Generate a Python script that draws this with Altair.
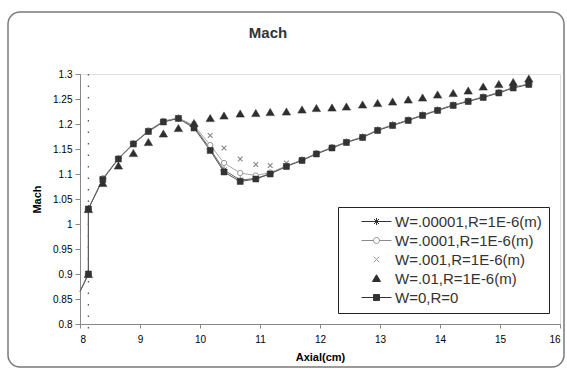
import altair as alt
import pandas as pd

# ---- data ----
AXIAL = [8.00, 8.14, 8.14, 8.38, 8.64, 8.89, 9.14, 9.39, 9.64, 9.90, 10.17, 10.40,
         10.67, 10.93, 11.17, 11.44, 11.70, 11.94, 12.20, 12.44, 12.71, 12.96, 13.21,
         13.47, 13.71, 13.96, 14.22, 14.47, 14.72, 14.98, 15.22, 15.48]

W_00001 = [0.865, 0.900, 1.030, 1.091, 1.131, 1.161, 1.186, 1.205, 1.212, 1.195, 1.150,
           1.108, 1.088, 1.091, 1.101, 1.116, 1.128, 1.141, 1.153, 1.164, 1.174, 1.188,
           1.198, 1.208, 1.218, 1.228, 1.238, 1.246, 1.254, 1.263, 1.273, 1.280]
W_0001 = [0.865, 0.900, 1.030, 1.091, 1.131, 1.161, 1.187, 1.206, 1.212, 1.197, 1.158,
          1.122, 1.102, 1.097, 1.103, 1.116, 1.128, 1.141, 1.153, 1.164, 1.174, 1.188,
          1.198, 1.208, 1.218, 1.228, 1.238, 1.246, 1.254, 1.263, 1.273, 1.280]
W_001 = [None, 0.900, 1.030, 1.090, 1.131, 1.161, 1.187, 1.206, 1.213, 1.200, 1.177,
         1.152, 1.130, 1.119, 1.117, 1.122, 1.129, 1.141, 1.153, 1.164, 1.174, 1.188,
         1.198, 1.208, 1.218, 1.228, 1.238, 1.246, 1.254, 1.263, 1.273, 1.280]
W_01 = [None, 0.900, 1.030, 1.082, 1.117, 1.142, 1.164, 1.181, 1.192, 1.202, 1.212,
        1.217, 1.221, 1.222, 1.224, 1.225, 1.229, 1.232, 1.233, 1.235, 1.239, 1.242,
        1.245, 1.249, 1.253, 1.259, 1.262, 1.267, 1.275, 1.280, 1.284, 1.291]
W_0 = [0.865, 0.900, 1.030, 1.089, 1.130, 1.160, 1.185, 1.204, 1.211, 1.192, 1.147,
       1.104, 1.085, 1.090, 1.100, 1.115, 1.127, 1.140, 1.152, 1.163, 1.173, 1.187,
       1.197, 1.207, 1.217, 1.227, 1.237, 1.245, 1.253, 1.262, 1.272, 1.279]

SERIES = ["W=.00001,R=1E-6(m)", "W=.0001,R=1E-6(m)", "W=.001,R=1E-6(m)",
          "W=.01,R=1E-6(m)", "W=0,R=0"]
VALUES = [W_00001, W_0001, W_001, W_01, W_0]
SHOCK_X = [8.14]
Y_TICKS = [0.8, 0.85, 0.9, 0.95, 1.0, 1.05, 1.1, 1.15, 1.2, 1.25, 1.3]
X_TICKS = [8, 9, 10, 11, 12, 13, 14, 15, 16]

rows = []
for name, vals in zip(SERIES, VALUES):
    for i, (xv, yv) in enumerate(zip(AXIAL, vals)):
        if yv is not None:
            rows.append({"series": name, "idx": i, "axial": xv, "mach": yv})
df = pd.DataFrame(rows)

FONT = "Liberation Sans"

# ---- styles ----
ASTER = "M-1,0H1M0,-1V1M-0.7,-0.7L0.7,0.7M-0.7,0.7L0.7,-0.7"
XMARK = "M-1,-1L1,1M-1,1L1,-1"
STYLE = {
    SERIES[0]: dict(line="#666666", point=dict(shape=ASTER, size=50, filled=False, stroke="#555555", strokeWidth=1)),
    SERIES[1]: dict(line="#a8a8a8", point=dict(shape="circle", size=28, filled=True, fill="white", stroke="#9a9a9a", strokeWidth=1)),
    SERIES[2]: dict(line=None, point=dict(shape=XMARK, size=22, filled=False, stroke="#8a8a8a", strokeWidth=1.2)),
    SERIES[3]: dict(line=None, point=dict(shape="triangle-up", size=70, filled=True, fill="#2e2e2e", stroke="#2e2e2e", strokeWidth=0.5)),
    SERIES[4]: dict(line="#555555", point=dict(shape="square", size=36, filled=True, fill="#333333", stroke="#333333", strokeWidth=0.5)),
}

xscale = alt.Scale(domain=[8, 16], nice=False, zero=False)
yscale = alt.Scale(domain=[0.8, 1.3], nice=False, zero=False)
xaxis = alt.Axis(values=X_TICKS, title="Axial(cm)", tickSize=4, labelPadding=6,
                 titlePadding=7, grid=False)
yaxis = alt.Axis(values=Y_TICKS, format="~g", title="Mach", tickSize=5, labelPadding=3,
                 titlePadding=10, grid=False)

X = alt.X("axial:Q", scale=xscale, axis=xaxis)
Y = alt.Y("mach:Q", scale=yscale, axis=yaxis)

base = alt.Chart(df)
layers = []

# outer rounded frame of the chart area
frame = alt.Chart(pd.DataFrame({"k": [0]})).mark_rect(
    cornerRadius=12, fillOpacity=0, stroke="#7a7a7a", strokeWidth=1.5
).encode(x=alt.value(-72), x2=alt.value(484), y=alt.value(-62), y2=alt.value(293))
layers.append(frame)

# dotted vertical line
shock = alt.Chart(pd.DataFrame({"axial": SHOCK_X})).mark_rule(
    color="#555555", strokeDash=[1.5, 10], strokeWidth=1.3
).encode(x=X, y=alt.value(0), y2=alt.value(262))
layers.append(shock)

for name in SERIES:
    st = STYLE[name]
    sub = base.transform_filter(alt.datum.series == name)
    if st["line"]:
        layers.append(sub.mark_line(color=st["line"], strokeWidth=1).encode(
            x=X, y=Y, order=alt.Order("idx:Q")))
for name in SERIES:
    st = STYLE[name]
    sub = base.transform_filter((alt.datum.series == name) & (alt.datum.idx >= 1))
    layers.append(sub.mark_point(opacity=1, **st["point"]).encode(x=X, y=Y))

# legend-only layer (no visible marks)
LEG_SHAPES = [
    "M-3,0H3" + "M-0.7,0H0.7M0,-0.7V0.7M-0.5,-0.5L0.5,0.5M-0.5,0.5L0.5,-0.5",
    "M-3,0H-0.6M0.6,0H3M0.6,0A0.6,0.6,0,1,1,-0.6,0A0.6,0.6,0,1,1,0.6,0Z",
    "M-0.55,-0.55L0.55,0.55M-0.55,0.55L0.55,-0.55",
    "M0,-0.75L0.8,0.6L-0.8,0.6Z",
    "M-3,0H3M-0.6,-0.6H0.6V0.6H-0.6Z",
]
LEG_FILL = ["transparent", "white", "transparent", "#2e2e2e", "#333333"]
LEG_STROKE = ["#333333", "#8a8a8a", "#9a9a9a", "#2e2e2e", "#333333"]

legend = alt.Legend(title=None, orient="none", legendX=258, legendY=133, padding=7,
                    symbolSize=100, symbolOffset=24, labelOffset=11, rowPadding=3,
                    labelFontSize=15, labelColor="#333333", labelFont=FONT,
                    strokeColor="#222222", fillColor="white", symbolStrokeWidth=1)
leg_layer = base.transform_filter(alt.datum.idx < 0).mark_point(opacity=1).encode(
    x=X, y=Y,
    shape=alt.Shape("series:N", scale=alt.Scale(domain=SERIES, range=LEG_SHAPES), legend=legend),
    fill=alt.Fill("series:N", scale=alt.Scale(domain=SERIES, range=LEG_FILL), legend=legend),
    stroke=alt.Stroke("series:N", scale=alt.Scale(domain=SERIES, range=LEG_STROKE), legend=legend),
)
layers.append(leg_layer)

chart = alt.layer(*layers).properties(
    width=480, height=250,
    title=alt.TitleParams("Mach", fontSize=15, fontWeight="bold", font=FONT,
                          color="#333333", anchor="middle", dx=-52, offset=-30),
    autosize=alt.AutoSizeParams(type="none"),
    padding={"left": 80, "top": 74, "right": 7, "bottom": 48},
).configure_view(stroke="#b0b0b0", strokeWidth=1).configure_axis(
    labelFont=FONT, titleFont=FONT, labelFontSize=10, labelColor="#444444",
    titleFontSize=12, titleFontWeight="bold", titleColor="#333333",
    domainColor="#666666", tickColor="#666666"
).configure(background="white")

chart.save("out.html", embed_options={"renderer": "svg", "actions": False})
